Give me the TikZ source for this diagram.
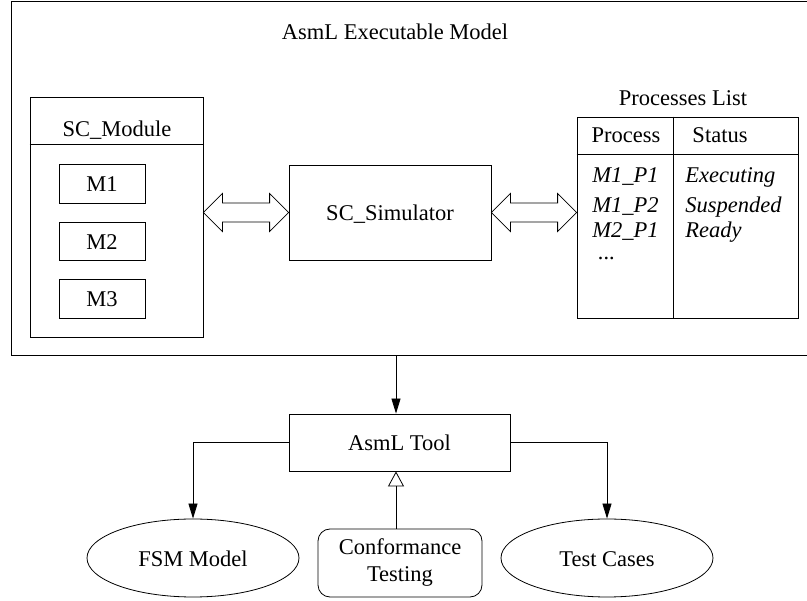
\documentclass[tikz,border=0pt]{standalone}
\usepackage{fontspec}
\setmainfont{Liberation Serif}
\usetikzlibrary{arrows.meta,calc,shapes.geometric}

\tikzset{
  box/.style={draw, rectangle, inner sep=0pt, text height=17pt, text depth=0pt},
  oval/.style={draw, ellipse, inner sep=0pt, minimum width=212pt, minimum height=78pt,
               text height=17pt, text depth=0pt},
  txt/.style={inner sep=0pt},
  arr/.style={-{Triangle[length=15pt,width=9pt]}},
  openarr/.style={-{Triangle[open,length=15pt,width=16pt]}},
  fatarrowline/.style={draw, line join=miter},
}

% hollow double-headed arrow between two points on one horizontal line
\newcommand\fatarrow[2]{%
  \draw[fatarrowline] (#1) -- ++(19,-19) -- ++(0,9.5) -- ($(#2)+(-19,-9.5)$)
    -- ++(0,-9.5) -- (#2) -- ++(-19,19) -- ++(0,-9.5) -- ($(#1)+(19,9.5)$)
    -- ++(0,9.5) -- cycle;}

\begin{document}
\begin{tikzpicture}[x=1pt, y=-1pt, line width=0.8pt,
                    font=\fontsize{22.5}{27}\selectfont]
\useasboundingbox (0,0) rectangle (807,601);

% executable model frame
\node[box, minimum width=801pt, minimum height=354pt] (model) at (411.5,178) {};
\node[txt, anchor=base] (title) at (395,40) {AsmL Executable Model};

% module column
\node[box, minimum width=173pt, minimum height=240pt] (mod) at (116.5,217) {};
\draw ([yshift=-48pt]mod.north west) -- ([yshift=-48pt]mod.north east);
\node[txt, anchor=base] (modtitle) at (117,137) {SC\_Module};
\node[box, minimum width=86pt, minimum height=39pt] (m1) at (102,183.5) {M1};
\node[box, minimum width=86pt, minimum height=38pt] (m2) at (102,241) {M2};
\node[box, minimum width=86pt, minimum height=39pt] (m3) at (102,298.5) {M3};

% simulator
\node[box, minimum width=202pt, minimum height=95pt] (sim) at (390,212.5) {SC\_Simulator};

% process table
\node[box, minimum width=221pt, minimum height=201pt] (table) at (687.5,217.5) {};
\draw ([yshift=-38pt]table.north west) -- ([yshift=-38pt]table.north east);
\draw ([xshift=-14.5pt]table.north) -- ([xshift=-14.5pt]table.south);
\node[txt, anchor=base] (tabtitle) at (683,106) {Processes List};
\node[txt, anchor=base] (hproc) at (626,143) {Process};
\node[txt, anchor=base] (hstat) at (720,143) {Status};
\begin{scope}[every node/.append style={txt, anchor=base west, font=\fontsize{22.5}{27}\selectfont\itshape}]
  \node (p1) at (592,183) {M1\_P1};
  \node (p2) at (592,213) {M1\_P2};
  \node (p3) at (592,238) {M2\_P1};
  \node (p4) at (598,260) {...};
  \node (s1) at (685,183) {Executing};
  \node (s2) at (685,213) {Suspended};
  \node (s3) at (685,238) {Ready};
\end{scope}

% links between module, simulator and table
\fatarrow{mod.east |- sim.west}{sim.west}
\fatarrow{sim.east}{sim.east -| table.west}

% tool chain
\node[box, minimum width=221pt, minimum height=57pt] (tool) at (399.5,442.5) {AsmL Tool};
\node[draw, rounded corners=12pt, inner sep=0pt, minimum width=164pt, minimum height=68pt,
      align=center] (conf) at (400,563) {Conformance\\Testing};
\node[oval] (fsm) at (193,558) {FSM Model};
\node[oval] (tc) at (607,558) {Test Cases};

\coordinate (axis) at (396,0);
\draw[arr] (axis |- model.south) -- (axis |- tool.north);
\draw[arr] (tool.west) -| (fsm.north);
\draw[arr] (tool.east) -| (tc.north);
\draw[openarr] (axis |- conf.north) -- (axis |- tool.south);
\end{tikzpicture}
\end{document}
